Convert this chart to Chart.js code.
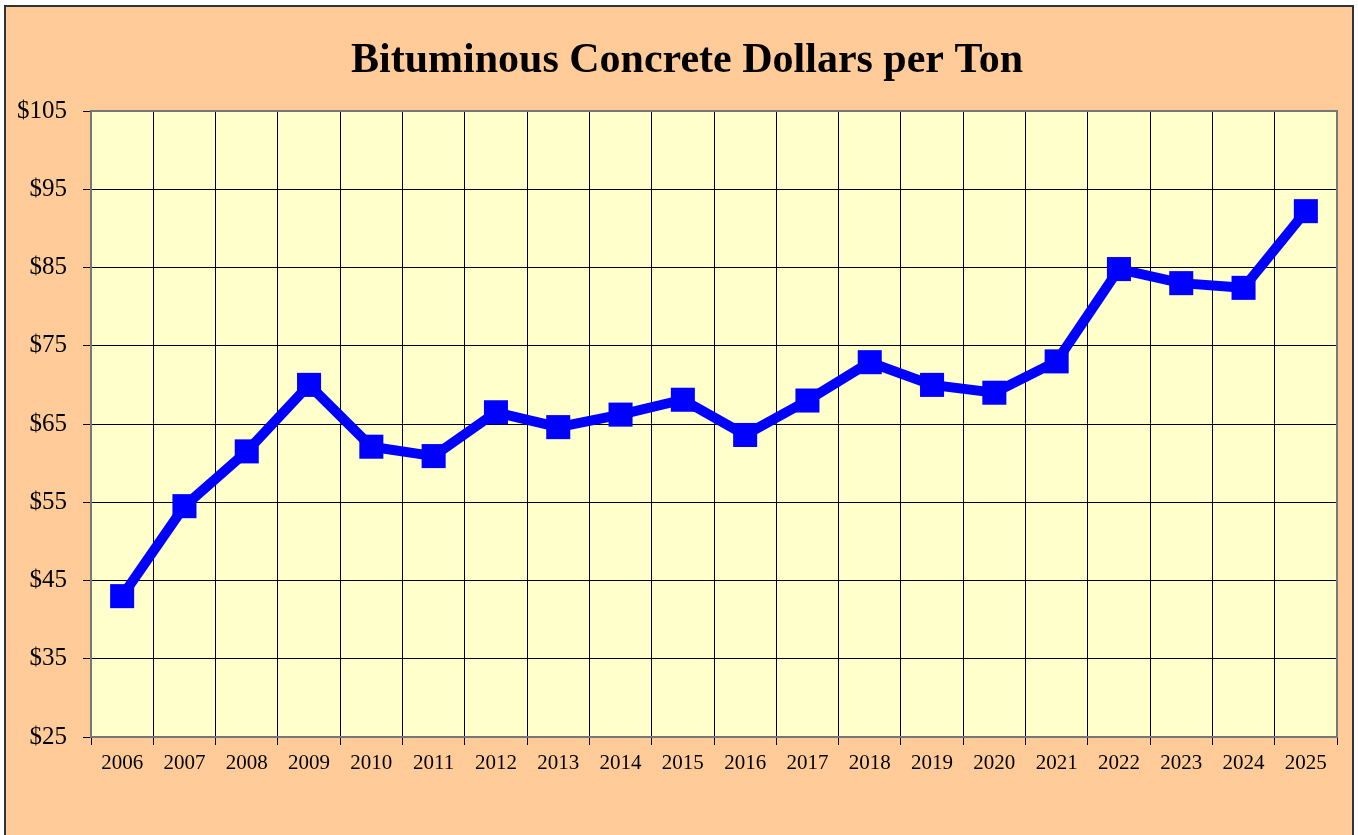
<!DOCTYPE html>
<html>
<head>
<meta charset="utf-8">
<script src="https://cdn.jsdelivr.net/npm/chart.js@4.4.1/dist/chart.umd.min.js"></script>
<style>
  body { margin: 0; background: #fff; }
  canvas { display: block; }
</style>
</head>
<body>
<canvas id="myChart" width="1358" height="835"></canvas>
<script>
// valores
var years = ['2006', '2007', '2008', '2009', '2010', '2011', '2012', '2013', '2014', '2015',
             '2016', '2017', '2018', '2019', '2020', '2021', '2022', '2023', '2024', '2025'];
var dollarsPerTon = [43.0, 54.5, 61.5, 70.0, 62.1, 60.9, 66.5, 64.6, 66.2, 68.1,
                     63.6, 68.0, 72.9, 70.0, 69.0, 73.0, 84.8, 83.0, 82.4, 92.2];
var yMin = 25;
var yMax = 105;
var yStep = 10;
var chartTitle = 'Bituminous Concrete Dollars per Ton';

var serif = "'Liberation Serif', 'Times New Roman', serif";

// fundo laranja com moldura, área do gráfico amarela e título
var background = {
  id: 'background',
  beforeDraw: function (chart) {
    var c = chart.ctx;
    var area = chart.chartArea;
    c.save();
    c.fillStyle = '#ffffff';
    c.fillRect(0, 0, chart.width, chart.height);
    c.fillStyle = '#ffcc99';
    c.fillRect(5, 6, chart.width - 10, chart.height);
    c.strokeStyle = '#333333';
    c.lineWidth = 2;
    c.strokeRect(5, 6, chart.width - 10, chart.height);
    c.fillStyle = '#ffffcc';
    c.fillRect(area.left, area.top, area.right - area.left, area.bottom - area.top);
    // título centralizado como no original (um pouco à direita do centro da área)
    c.fillStyle = '#000000';
    c.font = 'bold 42px ' + serif;
    c.textAlign = 'center';
    c.textBaseline = 'middle';
    c.fillText(chartTitle, 687, 61);
    c.restore();
  },
  beforeDatasetsDraw: function (chart) {
    var c = chart.ctx;
    var area = chart.chartArea;
    c.save();
    c.strokeStyle = '#777777';
    c.lineWidth = 2;
    c.strokeRect(area.left, area.top, area.right - area.left, area.bottom - area.top);
    c.restore();
  }
};

var ctx = document.getElementById('myChart');

var myChart = new Chart(ctx, {
  type: 'line',
  data: {
    labels: years,
    datasets: [{
      data: dollarsPerTon,
      borderColor: '#0000ff',
      backgroundColor: '#0000ff',
      borderWidth: 10,
      pointStyle: 'rect',
      pointRadius: 17,
      pointHoverRadius: 17,
      pointBorderWidth: 0,
      tension: 0
    }]
  },
  options: {
    responsive: false,
    animation: false,
    layout: {
      padding: { left: 0, right: 21, top: 111, bottom: 0 }
    },
    plugins: {
      legend: { display: false },
      tooltip: { enabled: false },
      title: { display: false }
    },
    scales: {
      x: {
        offset: true,
        afterFit: function (scale) { scale.height = 98; },
        grid: {
          offset: true,
          color: '#000000',
          lineWidth: 1,
          tickLength: 8
        },
        border: { color: '#666666', width: 2 },
        ticks: {
          color: '#000000',
          padding: 6,
          maxRotation: 0,
          autoSkip: false,
          font: { family: serif, size: 21 }
        }
      },
      y: {
        min: yMin,
        max: yMax,
        afterFit: function (scale) { scale.width = 91; },
        grid: {
          color: '#000000',
          lineWidth: 1,
          tickLength: 8
        },
        border: { color: '#666666', width: 2 },
        ticks: {
          stepSize: yStep,
          color: '#000000',
          padding: 16,
          font: { family: serif, size: 25 },
          callback: function (value) { return '$' + value; }
        }
      }
    }
  },
  plugins: [background]
});
</script>
</body>
</html>
